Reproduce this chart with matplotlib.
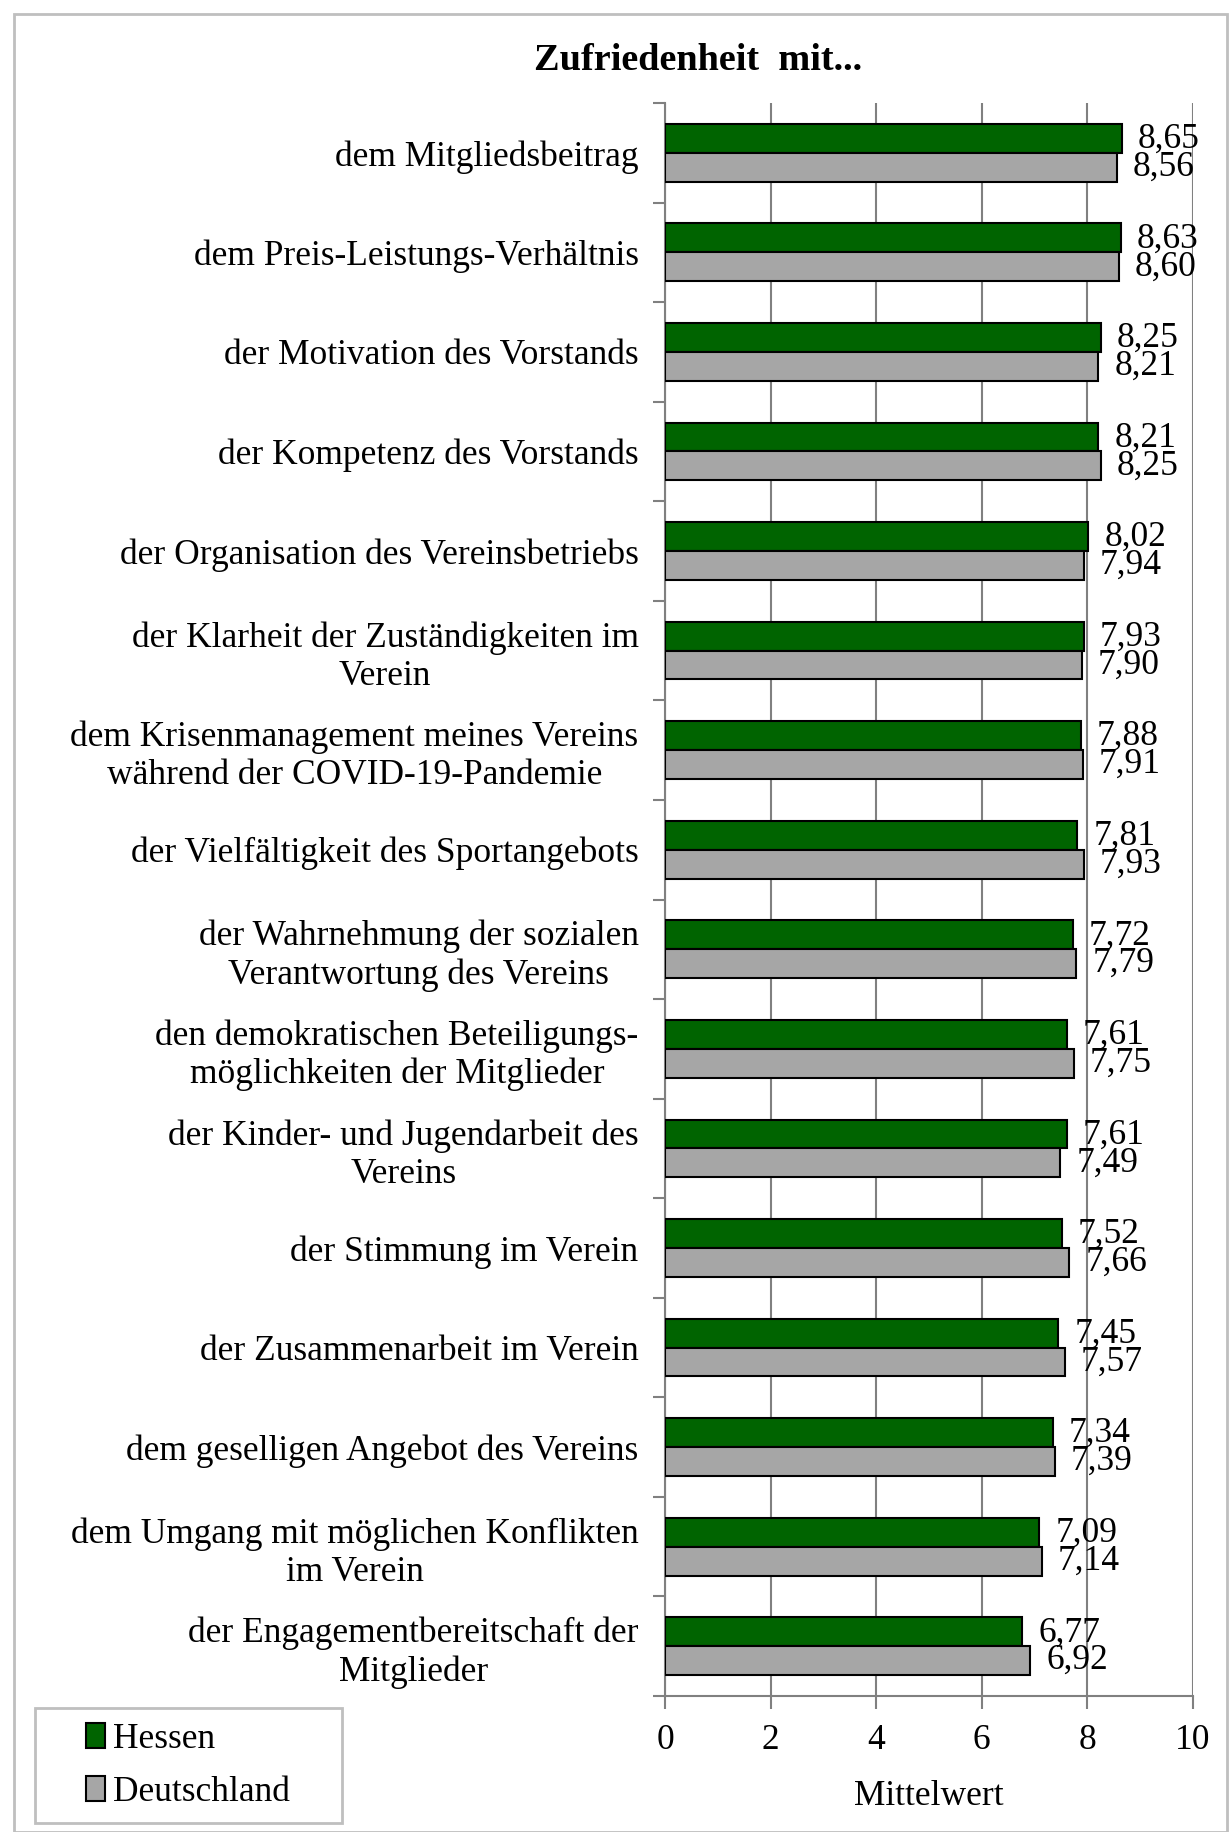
import matplotlib.pyplot as plt
import numpy as np
from matplotlib.patches import Rectangle, Patch

categories = [
    "dem Mitgliedsbeitrag",
    "dem Preis-Leistungs-Verhältnis",
    "der Motivation des Vorstands",
    "der Kompetenz des Vorstands",
    "der Organisation des Vereinsbetriebs",
    "der Klarheit der Zuständigkeiten im\nVerein",
    "dem Krisenmanagement meines Vereins\nwährend der COVID-19-Pandemie",
    "der Vielfältigkeit des Sportangebots",
    "der Wahrnehmung der sozialen\nVerantwortung des Vereins",
    "den demokratischen Beteiligungs-\nmöglichkeiten der Mitglieder",
    "der Kinder- und Jugendarbeit des\nVereins",
    "der Stimmung im Verein",
    "der Zusammenarbeit im Verein",
    "dem geselligen Angebot des Vereins",
    "dem Umgang mit möglichen Konflikten\nim Verein",
    "der Engagementbereitschaft der\nMitglieder",
]
hessen = [8.65, 8.63, 8.25, 8.21, 8.02, 7.93, 7.88, 7.81, 7.72, 7.61, 7.61, 7.52, 7.45, 7.34, 7.09, 6.77]
deutschland = [8.56, 8.60, 8.21, 8.25, 7.94, 7.90, 7.91, 7.93, 7.79, 7.75, 7.49, 7.66, 7.57, 7.39, 7.14, 6.92]
xticks = [0, 2, 4, 6, 8, 10]

green = '#006400'
grey = '#a6a6a6'
fs = 25.5

plt.rcParams['font.family'] = ['Liberation Serif', 'DejaVu Serif']
plt.rcParams['font.size'] = fs

W, H = 1229, 1832
fig = plt.figure(figsize=(W / 100, H / 100), dpi=100)
ax = fig.add_axes([665 / W, 1 - 1696 / H, (1193 - 665) / W, (1696 - 103) / H])

n = len(categories)
y = np.arange(n)
h = 0.29
ax.barh(y - h / 2, hessen, height=h, color=green, edgecolor='black', linewidth=1.5, zorder=3)
ax.barh(y + h / 2, deutschland, height=h, color=grey, edgecolor='black', linewidth=1.5, zorder=3)

# value labels (they sit tight against each other, as in the original)
for i in range(n):
    ax.text(hessen[i] + 0.3, y[i] - h / 2 + 0.01, f"{hessen[i]:.2f}".replace('.', ','),
            va='center', ha='left', fontsize=fs)
    ax.text(deutschland[i] + 0.3, y[i] + h / 2, f"{deutschland[i]:.2f}".replace('.', ','),
            va='center', ha='left', fontsize=fs)

ax.set_ylim(n - 0.5, -0.5)
ax.set_xlim(0, 10)
ax.set_yticks(y)
ax.set_yticklabels(categories, multialignment='center')
ax.set_yticks(np.arange(n + 1) - 0.5, minor=True)
ax.tick_params(axis='y', which='major', length=0, pad=19)
ax.tick_params(axis='y', which='minor', length=9, width=1.5, color='#808080', direction='out')
ax.set_xticks(xticks)
ax.set_xticklabels([str(t) for t in xticks])
ax.tick_params(axis='x', length=9, width=1.5, color='#808080', pad=11)
ax.grid(axis='x', color='#808080', linewidth=1.5, zorder=0)
ax.set_axisbelow(True)
for s in ['top', 'right']:
    ax.spines[s].set_visible(False)
for s in ['left', 'bottom']:
    ax.spines[s].set_color('#808080')
    ax.spines[s].set_linewidth(1.5)
ax.set_xlabel("Mittelwert", labelpad=17)

fig.text(698 / W, 1 - 60 / H, "Zufriedenheit  mit...", ha='center', va='center',
         fontsize=27.5, fontweight='bold')

# outer frame
fig.patches.append(Rectangle((14 / W, 0.0), (W - 16) / W, 1 - 14 / H, transform=fig.transFigure,
                             fill=False, edgecolor='#bfbfbf', linewidth=2))

# legend frame
fig.patches.append(Rectangle((35 / W, 1 - 1823 / H), (342 - 35) / W, (1823 - 1708) / H,
                             transform=fig.transFigure, fill=False, edgecolor='#bfbfbf', linewidth=2))

handles = [Patch(facecolor=green, edgecolor='black', linewidth=1.5),
           Patch(facecolor=grey, edgecolor='black', linewidth=1.5)]
leg = fig.legend(handles, ['Hessen', 'Deutschland'], loc='center left',
                 bbox_to_anchor=(86 / W, 1 - 1766 / H), frameon=False,
                 handlelength=0.55, handleheight=0.7, handletextpad=0.2,
                 labelspacing=0.55, borderpad=0, borderaxespad=0, fontsize=fs)

fig.savefig('out.png', dpi=100)
